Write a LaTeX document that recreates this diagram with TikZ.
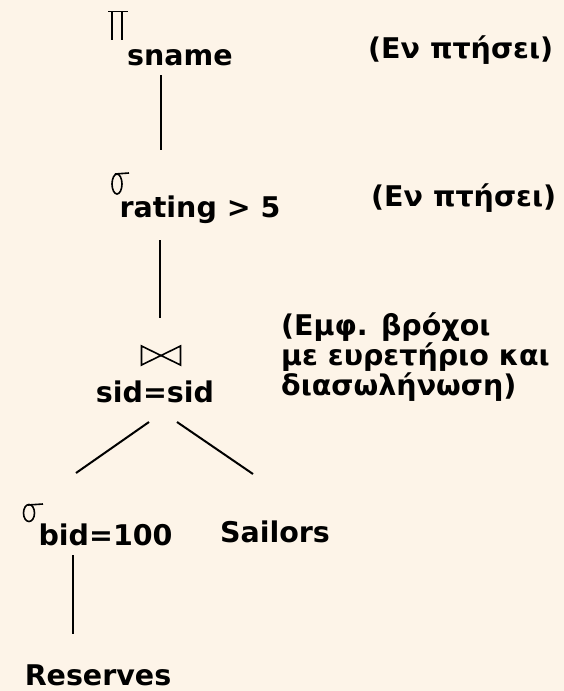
\documentclass[tikz,border=0pt]{standalone}
\usepackage{fontspec}
\setmainfont{DejaVu Sans}
\definecolor{paper}{RGB}{253,244,232}
\begin{document}
\begin{tikzpicture}[x=1pt,y=-1pt,
  lbl/.style={inner sep=0pt,font=\bfseries\fontsize{28.5}{30}\selectfont},
  note/.style={lbl,anchor=base west,align=left},
  edge/.style={line width=2pt},
  glyph/.style={line width=1.6pt}]
\fill[paper] (0,0) rectangle (564,691);
\useasboundingbox (0,0) rectangle (564,691);

% operator labels
\node[lbl,anchor=base] (proj) at (180,65) {sname};
\node[lbl,anchor=base] (sel1) at (200,217) {rating > 5};
\node[lbl,anchor=base] (join) at (155,402) {sid=sid};
\node[lbl,anchor=base] (sel2) at (105.5,545) {bid=100};
\node[lbl,anchor=base] (sail) at (275,542) {Sailors};
\node[lbl,anchor=base] (res)  at (98,685) {Reserves};

% annotations
\node[note] (n1) at (368,58) {(Εν πτήσει)};
\node[note] (n2) at (371,206) {(Εν πτήσει)};
\node[note] (n3) at (281,395) {(Εμφ. βρόχοι\\με ευρετήριο και\\διασωλήνωση)};

% hand-drawn operator symbols
\draw[glyph] (108,11.5) -- (128,11.5) (112,11.5) -- (112,40) (122,11.5) -- (122,40);
\draw[glyph] (117,184) ellipse (5 and 10);
\draw[glyph] (115,174) -- (129,173);
\draw[glyph] (29,513) ellipse (5.5 and 8.5);
\draw[glyph] (28,505) -- (43,504);
\draw[glyph,line join=miter] (141.5,346) -- (180.5,365) -- (180.5,346) -- (141.5,365) -- cycle;

% tree edges
\coordinate (p1) at (161,75);  \coordinate (p2) at (161,150);
\coordinate (q1) at (160,240); \coordinate (q2) at (160,318);
\coordinate (jl) at (149,422); \coordinate (jr) at (177,422);
\coordinate (sl) at (76,473);  \coordinate (sr) at (253,474);
\coordinate (b1) at (72.5,555); \coordinate (b2) at (72.5,634);
\draw[edge] (p1) -- (p2);
\draw[edge] (q1) -- (q2);
\draw[edge] (jl) -- (sl);
\draw[edge] (jr) -- (sr);
\draw[edge] (b1) -- (b2);
\end{tikzpicture}
\end{document}
